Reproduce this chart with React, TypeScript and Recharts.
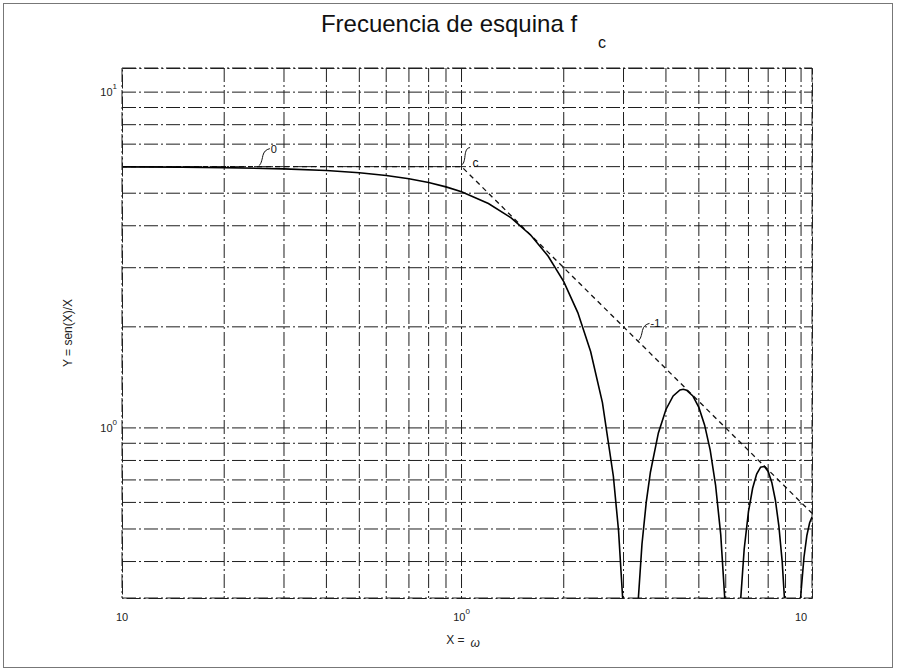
import { CartesianGrid, Line, LineChart, ReferenceDot, XAxis, YAxis } from "recharts";

// |6·sen(X)/X| sampled along X
const xs = [
  0.1, 0.15, 0.2, 0.3, 0.4, 0.5, 0.6, 0.7, 0.8, 0.9,
  1.0, 1.2, 1.4, 1.6, 1.8, 2.0, 2.2, 2.4, 2.6, 2.8,
  2.9, 3.0, 3.05, 3.1, 3.14, 3.15, 3.2, 3.3, 3.4, 3.5,
  3.6, 3.8, 4.0, 4.2, 4.4, 4.5, 4.6, 4.8, 5.0, 5.2,
  5.4, 5.6, 5.8, 6.0, 6.1, 6.2, 6.28, 6.3, 6.4, 6.5,
  6.6, 6.8, 7.0, 7.2, 7.4, 7.6, 7.8, 8.0, 8.2, 8.4,
  8.6, 8.8, 9.0, 9.2, 9.3, 9.42, 9.45, 9.5, 9.6, 9.8,
  10.0, 10.2, 10.4, 10.6, 10.77,
];
const ys = [
  5.99, 5.978, 5.96, 5.91, 5.841, 5.753, 5.646, 5.522, 5.38, 5.222,
  5.049, 4.66, 4.223, 3.748, 3.246, 2.728, 2.205, 1.689, 1.19, 0.718,
  0.495, 0.282, 0.18, 0.0805, 0.003, 0.016, 0.109, 0.287, 0.451, 0.601,
  0.738, 0.966, 1.135, 1.245, 1.298, 1.303, 1.296, 1.245, 1.151, 1.019,
  0.859, 0.676, 0.481, 0.279, 0.179, 0.0804, 0.003, 0.016, 0.109, 0.199,
  0.283, 0.436, 0.563, 0.661, 0.729, 0.764, 0.768, 0.742, 0.688, 0.61,
  0.512, 0.399, 0.275, 0.145, 0.0803, 0.003, 0.016, 0.0475, 0.109, 0.224,
  0.326, 0.412, 0.478, 0.522, 0.543,
];

// asymptotes: flat at f0 up to the corner fc, then slope -1
const asymX = [0.1, 1, 10.77];
const asymY = [6, 6, 0.557];

const xTicks = [
  0.1, 0.2, 0.3, 0.4, 0.5, 0.6, 0.7, 0.8, 0.9,
  1, 2, 3, 4, 5, 6, 7, 8, 9, 10,
];
const yTicks = [0.4, 0.5, 0.6, 0.7, 0.8, 0.9, 1, 2, 3, 4, 5, 6, 7, 8, 9, 10];

// exponent drawn next to each decade label ("" = none printed)
const xDecades: Record<number, string> = { 0.1: "", 1: "0", 10: "" };
const yDecades: Record<number, string> = { 1: "0", 10: "1" };

// slope / corner annotations
const notes = [
  { x: 0.253, y: 6, text: "0", kind: "up" },
  { x: 1, y: 6, text: "c", kind: "sub" },
  { x: 3.32, y: 1.81, text: "-1", kind: "up" },
];

const curve = xs.map((x, i) => ({ x, y: ys[i] }));
const asym = asymX.map((x, i) => ({ x, y: asymY[i] }));

const font = "'Liberation Sans', Arial, sans-serif";
const gridDash = "14 3 2 3";

function XTick(props: any) {
  const { x, y, payload } = props;
  const exp = xDecades[payload.value];
  if (exp === undefined) return null;
  return (
    <text x={x} y={y + 23} textAnchor="middle" fontSize={11} fontFamily={font} fill="#222">
      10
      {exp && (
        <tspan dy={-7} fontSize={8}>
          {exp}
        </tspan>
      )}
    </text>
  );
}

function YTick(props: any) {
  const { x, y, payload } = props;
  const exp = yDecades[payload.value];
  if (exp === undefined) return null;
  return (
    <text x={x - 5} y={y + 4} textAnchor="end" fontSize={11} fontFamily={font} fill="#222">
      10
      <tspan dy={-7} fontSize={8}>
        {exp}
      </tspan>
    </text>
  );
}

function Note(props: any) {
  const { cx, cy, text, kind } = props;
  if (kind === "sub") {
    return (
      <g>
        <path
          d={`M ${cx} ${cy - 2} c 2 0 3 -4 3.5 -9 c 0.5 -5 2 -8 5 -8`}
          fill="none"
          stroke="#111"
          strokeWidth={1}
        />
        <text x={cx + 11} y={cy} fontSize={12} fontFamily={font} fill="#111">
          {text}
        </text>
      </g>
    );
  }
  return (
    <g>
      <path
        d={`M ${cx} ${cy - 1} c 2 -1 3 -5 4 -10 c 1 -4 3 -6 7 -7`}
        fill="none"
        stroke="#111"
        strokeWidth={1}
      />
      <text x={cx + 12} y={cy - 14} fontSize={11} fontFamily={font} fill="#111">
        {text}
      </text>
    </g>
  );
}

export default function App() {
  return (
    <div style={{ position: "relative", width: 897, height: 672, background: "#fff" }}>
      <style>{"body{margin:0}"}</style>
      <LineChart width={897} height={672} margin={{ top: 68, right: 85, bottom: 44, left: 62 }}>
        <CartesianGrid stroke="#1e1e1e" strokeDasharray={gridDash} strokeWidth={1} />
        <XAxis
          dataKey="x"
          type="number"
          scale="log"
          domain={[0.1, 10.77]}
          allowDataOverflow
          ticks={xTicks}
          interval={0}
          height={30}
          tickSize={0}
          tickMargin={0}
          tickLine={false}
          axisLine={false}
          tick={(p: any) => <XTick {...p} />}
        />
        <YAxis
          dataKey="y"
          type="number"
          scale="log"
          domain={[0.3115, 11.8]}
          allowDataOverflow
          ticks={yTicks}
          interval={0}
          width={60}
          tickSize={0}
          tickMargin={0}
          tickLine={false}
          axisLine={false}
          tick={(p: any) => <YTick {...p} />}
        />
        <Line
          data={asym}
          dataKey="y"
          type="linear"
          stroke="#111"
          strokeWidth={1.3}
          strokeDasharray="5 4"
          dot={false}
          isAnimationActive={false}
        />
        <Line
          data={curve}
          dataKey="y"
          type="linear"
          stroke="#000"
          strokeWidth={1.6}
          dot={false}
          isAnimationActive={false}
        />
        {notes.map((n) => (
          <ReferenceDot
            key={n.text}
            x={n.x}
            y={n.y}
            r={0}
            ifOverflow="visible"
            shape={(p: any) => <Note {...p} text={n.text} kind={n.kind} />}
          />
        ))}
      </LineChart>
      <svg
        width={897}
        height={672}
        style={{ position: "absolute", left: 0, top: 0, pointerEvents: "none" }}
      >
        <rect x={3.5} y={3.5} width={889} height={664} fill="none" stroke="#777" strokeWidth={1} />
        <rect
          x={122.5}
          y={68.5}
          width={690}
          height={530}
          fill="none"
          stroke="#1e1e1e"
          strokeDasharray={gridDash}
        />
        <text x={449} y={32} textAnchor="middle" fontSize={24} fontFamily={font} fill="#111">
          Frecuencia de esquina f
        </text>
        <text x={598} y={48} fontSize={16} fontFamily={font} fill="#111">
          c
        </text>
        <text
          x={72}
          y={333}
          transform="rotate(-90 72 333)"
          textAnchor="middle"
          fontSize={12}
          fontFamily={font}
          fill="#222"
        >
          Y = sen(X)/X
        </text>
        <text x={463} y={644} textAnchor="middle" fontSize={12} fontFamily={font} fill="#222">
          X =<tspan dx={6} dy={3} fontStyle="italic">ω</tspan>
        </text>
      </svg>
    </div>
  );
}
